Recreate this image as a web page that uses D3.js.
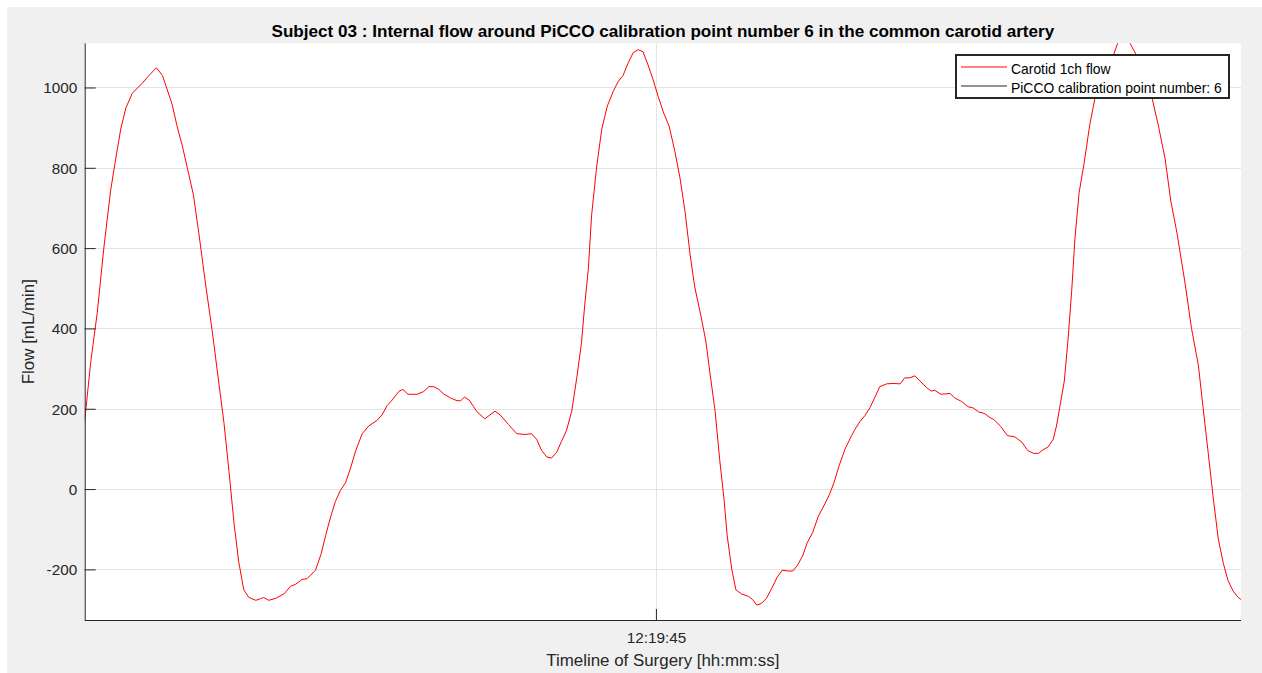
<!DOCTYPE html>
<html>
<head>
<meta charset="utf-8">
<script src="https://cdn.jsdelivr.net/npm/d3@7"></script>
<style>
  html, body { margin: 0; padding: 0; background: #ffffff; }
  svg { display: block; }
  text { font-family: "Liberation Sans", Arial, Helvetica, sans-serif; }
</style>
</head>
<body>
<svg id="chart" width="1262" height="673"></svg>
<script>
// ---- Data (time offsets in ms relative to 12:19:45.000, flow in mL/min) ----
const timeMs = [
  -1235, -1222, -1208, -1193, -1179, -1168, -1157, -1146, -1132, -1111,
  -1096, -1080, -1067, -1057, -1046, -1035, -1024, -1013, -1000, -988,
  -974, -959, -945, -934, -923, -912, -902, -891, -880, -865,
  -855, -848, -837, -822, -804, -790, -779, -765, -754, -736,
  -724, -714, -703, -693, -682, -671, -660, -649, -635, -621,
  -603, -592, -581, -570, -556, -547, -536, -516, -502, -491,
  -480, -469, -458, -444, -430, -422, -414, -404, -394, -388,
  -370, -348, -337, -319, -301, -283, -269, -258, -247, -236,
  -226, -215, -204, -193, -182, -171, -161, -154, -146, -139,
  -128, -117, -105, -92, -82, -71, -60, -49, -38, -28,
  -17, -6, 5, 16, 29, 41, 52, 63, 74, 84,
  97, 108, 117, 128, 138, 147, 154, 164, 173, 185,
  200, 209, 218, 229, 239, 250, 262, 273, 286, 296,
  306, 317, 327, 339, 351, 363, 375, 385, 396, 409,
  423, 430, 441, 452, 463, 474, 484, 499, 513, 528,
  538, 549, 560, 571, 585, 595, 603, 616, 636, 646,
  661, 675, 686, 698, 711, 722, 731, 746, 760, 776,
  791, 804, 816, 827, 837, 848, 859, 866, 873, 883,
  891, 899, 906, 915, 926, 938, 949, 967, 989, 999,
  1012, 1025, 1039, 1057, 1072, 1086, 1101, 1113, 1127, 1144,
  1158, 1173, 1183, 1194, 1205, 1216, 1227, 1237, 1248, 1259,
  1265
];
const flow = [
  170, 316, 438, 607, 743, 822, 897, 949, 986, 1010,
  1030, 1049, 1030, 996, 958, 902, 855, 799, 733, 635,
  513, 391, 264, 166, 44, -87, -181, -251, -270, -277,
  -273, -270, -277, -272, -261, -242, -237, -225, -223, -202,
  -162, -115, -68, -31, -3, 16, 53, 96, 138, 157,
  171, 185, 208, 222, 243, 248, 236, 236, 243, 255,
  255, 248, 236, 227, 220, 220, 229, 222, 205, 194,
  175, 194, 185, 161, 138, 136, 138, 124, 96, 80,
  77, 91, 119, 147, 194, 278, 363, 457, 550, 682,
  804, 897, 954, 991, 1014, 1030, 1061, 1087, 1094, 1089,
  1056, 1019, 977, 939, 902, 841, 775, 691, 583, 503,
  433, 368, 288, 194, 72, -22, -115, -200, -251, -261,
  -267, -275, -289, -284, -272, -248, -220, -202, -204, -204,
  -190, -167, -134, -108, -68, -42, -14, 16, 58, 100,
  133, 148, 168, 183, 203, 230, 255, 262, 263, 262,
  277, 277, 282, 269, 253, 244, 246, 236, 238, 227,
  218, 205, 202, 192, 188, 178, 173, 155, 133, 130,
  117, 96, 89, 89, 98, 105, 124, 157, 203, 269,
  372, 494, 625, 738, 813, 907, 972, 1010, 1080, 1112,
  1135, 1110, 1080, 1028, 977, 907, 822, 719, 635, 513,
  400, 307, 203, 91, -22, -125, -186, -228, -254, -270,
  -275
];
const yTicks = [-200, 0, 200, 400, 600, 800, 1000];
const xTickLabels = ["12:19:45"];
const yDomain = [-326, 1110];
const titleText = "Subject 03 : Internal flow around PiCCO calibration point number 6 in the common carotid artery";
const xLabelText = "Timeline of Surgery [hh:mm:ss]";
const yLabelText = "Flow [mL/min]";
const legendLabels = ["Carotid 1ch flow", "PiCCO calibration point number: 6"];
const legendColors = ["#ff0000", "#262626"];

// ---- Setup ----
const W = 1262, H = 673;
const margin = { left: 84.7, right: 1241, top: 43.3, bottom: 620 };
const svg = d3.select("#chart");
const baseTime = new Date(2020, 0, 1, 12, 19, 45, 0);
const parseTick = d3.timeParse("%H:%M:%S");
const tickDates = xTickLabels.map(s => {
  const t = parseTick(s);
  return new Date(2020, 0, 1, t.getHours(), t.getMinutes(), t.getSeconds(), 0);
});
const data = timeMs.map((t, i) => ({ t: new Date(baseTime.getTime() + t), v: flow[i] }));

const x = d3.scaleTime()
  .domain(d3.extent(data, d => d.t))
  .range([margin.left, margin.right]);
const y = d3.scaleLinear()
  .domain(yDomain)
  .range([margin.bottom, margin.top]);

// figure background
svg.append("rect").attr("x", 7).attr("y", 7).attr("width", W - 7).attr("height", H - 7)
  .attr("fill", "#f0f0f0");
// axes background
svg.append("rect")
  .attr("x", margin.left).attr("y", margin.top)
  .attr("width", margin.right - margin.left).attr("height", margin.bottom - margin.top)
  .attr("fill", "#ffffff");

// grid
const grid = svg.append("g").attr("stroke", "#e3e3e3").attr("stroke-width", 1).attr("shape-rendering", "crispEdges");
grid.selectAll("line.hy").data(yTicks).join("line")
  .attr("x1", margin.left).attr("x2", margin.right)
  .attr("y1", d => Math.round(y(d)) + 0.5).attr("y2", d => Math.round(y(d)) + 0.5);
grid.selectAll("line.vx").data(tickDates).join("line")
  .attr("y1", margin.top).attr("y2", margin.bottom)
  .attr("x1", d => Math.round(x(d)) + 0.5).attr("x2", d => Math.round(x(d)) + 0.5);

// clip
svg.append("clipPath").attr("id", "clip").append("rect")
  .attr("x", margin.left).attr("y", margin.top)
  .attr("width", margin.right - margin.left).attr("height", margin.bottom - margin.top);

// line
const line = d3.line().x(d => x(d.t)).y(d => y(d.v));
svg.append("path").datum(data)
  .attr("clip-path", "url(#clip)")
  .attr("d", line)
  .attr("fill", "none")
  .attr("stroke", "#ff0000")
  .attr("stroke-width", 1);

// axes
const fs = 15.3;
const axisColor = "#262626";
const yAxis = d3.axisLeft(y).tickValues(yTicks).tickFormat(d => String(d))
  .tickSizeInner(-11).tickSizeOuter(0).tickPadding(19);
const gy = svg.append("g").attr("transform", `translate(${margin.left},0)`).call(yAxis);
gy.select(".domain").attr("stroke", axisColor).attr("d", `M0.5,${margin.top}V${margin.bottom}`);
gy.selectAll(".tick line").attr("stroke", axisColor);
gy.selectAll(".tick text").attr("fill", axisColor).attr("font-size", fs)
  .attr("font-family", "'Liberation Sans', Arial, sans-serif").attr("x", -7.5).attr("dy", "0.36em");

const xAxis = d3.axisBottom(x).tickValues(tickDates).tickFormat(d3.timeFormat("%H:%M:%S"))
  .tickSizeInner(-11).tickSizeOuter(0).tickPadding(0);
const gx = svg.append("g").attr("transform", `translate(0,${margin.bottom})`).call(xAxis);
gx.select(".domain").attr("stroke", axisColor).attr("d", `M${margin.left},0.5H${margin.right}`);
gx.selectAll(".tick line").attr("stroke", axisColor);
gx.selectAll(".tick text").attr("fill", axisColor).attr("font-size", fs)
  .attr("font-family", "'Liberation Sans', Arial, sans-serif").attr("y", 23).attr("dy", 0);

// title & labels
svg.append("text").attr("x", (margin.left + margin.right) / 2).attr("y", 37)
  .attr("text-anchor", "middle").attr("font-weight", "bold").attr("font-size", 17.1)
  .attr("fill", "#000").text(titleText);
svg.append("text").attr("x", (margin.left + margin.right) / 2).attr("y", 666)
  .attr("text-anchor", "middle").attr("font-size", 16.9).attr("fill", axisColor).text(xLabelText);
svg.append("text").attr("transform", `translate(34,${(margin.top + margin.bottom) / 2}) rotate(-90)`)
  .attr("text-anchor", "middle").attr("font-size", 16.9).attr("fill", axisColor).text(yLabelText);

// legend
const lg = svg.append("g");
lg.append("rect").attr("x", 956).attr("y", 55).attr("width", 273).attr("height", 43)
  .attr("fill", "#ffffff").attr("stroke", "#262626").attr("stroke-width", 2);
legendLabels.forEach((lab, i) => {
  const cy = 67 + i * 19;
  lg.append("line").attr("x1", 961).attr("x2", 1007).attr("y1", cy).attr("y2", cy)
    .attr("stroke", legendColors[i]).attr("stroke-width", 1);
  lg.append("text").attr("x", 1011).attr("y", cy + 6.5).attr("font-size", 13.9)
    .attr("fill", "#000").text(lab);
});
</script>
</body>
</html>
